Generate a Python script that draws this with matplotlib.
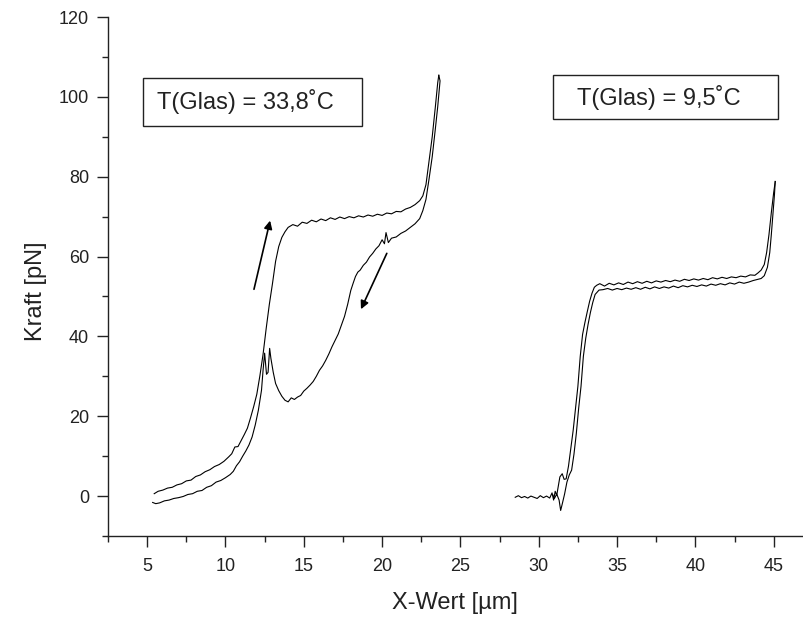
import matplotlib
matplotlib.use("Agg")
import matplotlib.pyplot as plt
import matplotlib.patches as patches
from matplotlib.ticker import MultipleLocator

plt.rcParams['font.family'] = ['Liberation Sans', 'DejaVu Sans']

# --- 33,8 C: approach branch (up arrow)
warm_up_x = [5.45, 5.7, 6.0, 6.3, 6.6, 6.9, 7.2, 7.5, 7.8, 8.1, 8.4, 8.7, 9.0,
             9.3, 9.6, 9.9, 10.2, 10.4, 10.6, 10.8, 11.0, 11.2, 11.4, 11.6,
             11.8, 12.0, 12.2, 12.4, 12.6, 12.8, 13.0, 13.2, 13.4, 13.6, 13.8,
             14.0, 14.3, 14.6, 14.9, 15.2, 15.5, 15.8, 16.1, 16.4, 16.7, 17.0,
             17.3, 17.6, 17.9, 18.2, 18.5, 18.8, 19.1, 19.4, 19.7, 20.0, 20.3,
             20.6, 20.9, 21.2, 21.5, 21.8, 22.1, 22.4, 22.6, 22.8, 23.0, 23.2,
             23.4, 23.55, 23.62]
warm_up_y = [0.6, 1.2, 1.5, 2.0, 2.2, 2.8, 3.1, 3.8, 4.0, 4.9, 5.3, 6.1, 6.6,
             7.4, 7.9, 8.7, 9.8, 10.6, 12.3, 12.4, 13.9, 15.4, 17.0, 19.6,
             22.4, 25.5, 30.2, 35.5, 42.0, 48.0, 53.2, 58.8, 62.5, 64.8, 66.2,
             67.3, 68.0, 67.6, 68.6, 68.3, 69.1, 68.7, 69.4, 69.0, 69.7, 69.3,
             69.9, 69.5, 70.0, 69.7, 70.2, 69.9, 70.4, 70.1, 70.6, 70.3, 70.9,
             70.7, 71.3, 71.2, 71.9, 72.3, 73.0, 74.0, 75.2, 78.0, 84.0, 90.0,
             97.5, 103.5, 105.4]

# --- 33,8 C: retract branch (down arrow)
warm_down_x = [23.62, 23.7, 23.55, 23.4, 23.2, 23.0, 22.8, 22.6, 22.4, 22.1,
               21.8, 21.5, 21.2, 20.9, 20.6, 20.4, 20.25, 20.15, 20.0, 19.8,
               19.6, 19.4, 19.2, 19.0, 18.8, 18.6, 18.45, 18.3, 18.15, 18.0,
               17.8, 17.6, 17.4, 17.2, 17.0, 16.8, 16.6, 16.4, 16.2, 16.0,
               15.8, 15.6, 15.4, 15.2, 15.0, 14.8, 14.6, 14.4, 14.2, 14.0,
               13.8, 13.6, 13.4, 13.2, 13.05, 12.9, 12.82, 12.72, 12.62, 12.5,
               12.4, 12.3, 12.1, 11.9, 11.7, 11.5, 11.3, 11.1, 10.9, 10.7,
               10.5, 10.3, 10.0, 9.7, 9.4, 9.1, 8.8, 8.5, 8.2, 7.9, 7.6, 7.3,
               7.0, 6.7, 6.4, 6.1, 5.8, 5.55, 5.35]
warm_down_y = [105.4, 104.0, 97.5, 92.0, 85.0, 79.5, 74.3, 71.5, 69.5, 68.2,
               67.3, 66.4, 65.8, 64.9, 64.6, 63.5, 66.0, 63.2, 64.2, 62.7,
               61.9, 60.8, 59.9, 58.6, 57.8, 56.6, 56.1, 55.0, 53.3, 51.5,
               48.0, 45.0, 42.8, 40.6, 39.0, 37.4, 35.6, 34.0, 32.6, 31.5,
               30.0, 28.7, 27.8, 27.0, 26.3, 25.2, 24.8, 24.2, 24.6, 23.6,
               24.0, 25.0, 26.4, 28.2, 31.0, 34.5, 37.0, 31.0, 30.5, 35.8,
               31.5, 26.5, 21.5, 17.8, 14.8, 12.8, 11.3, 10.0, 8.6, 7.6,
               6.2, 5.4, 4.6, 3.9, 3.5, 2.6, 2.2, 1.4, 1.2, 0.6, 0.4, -0.1,
               -0.4, -0.6, -1.0, -1.2, -1.7, -1.9, -1.6]

# --- 9,5 C: approach branch
cold_up_x = [28.5, 28.7, 28.9, 29.1, 29.3, 29.5, 29.7, 29.9, 30.1, 30.3, 30.5,
             30.7, 30.85, 30.95, 31.05, 31.15, 31.25, 31.35, 31.5, 31.62,
             31.75, 31.9, 32.05, 32.2, 32.35, 32.5, 32.65, 32.8, 32.95, 33.1,
             33.25, 33.4, 33.55, 33.7, 33.9, 34.2, 34.5, 34.8, 35.1, 35.4,
             35.7, 36.0, 36.3, 36.6, 36.9, 37.2, 37.5, 37.8, 38.1, 38.4, 38.7,
             39.0, 39.3, 39.6, 39.9, 40.2, 40.5, 40.8, 41.1, 41.4, 41.7, 42.0,
             42.3, 42.6, 42.9, 43.2, 43.5, 43.8, 44.0, 44.2, 44.4, 44.55,
             44.7, 44.85, 45.0, 45.1]
cold_up_y = [-0.3, 0.1, -0.4, -0.1, -0.5, 0.0, -0.3, -0.6, 0.1, -0.4, 0.0,
             -0.5, 0.8, -1.0, 1.2, 0.2, 2.5, 4.8, 5.6, 4.2, 4.3, 7.5, 12.0,
             16.5, 22.0, 27.5, 35.0, 40.5, 43.5, 46.2, 48.8, 50.8, 52.3, 52.8,
             53.2, 52.6, 53.3, 52.9, 53.4, 53.0, 53.6, 53.2, 53.7, 53.3, 53.8,
             53.4, 53.9, 53.6, 54.0, 53.7, 54.1, 53.8, 54.3, 54.0, 54.4, 54.1,
             54.5, 54.2, 54.7, 54.4, 54.8, 54.5, 54.9, 54.7, 55.1, 54.9, 55.4,
             55.3, 55.9, 56.6, 58.0, 61.0, 65.5, 71.0, 76.0, 78.8]

# --- 9,5 C: retract branch
cold_down_x = [45.1, 45.05, 44.95, 44.85, 44.75, 44.6, 44.4, 44.2, 44.0,
               43.7, 43.4, 43.1, 42.8, 42.5, 42.2, 41.9, 41.6, 41.3, 41.0,
               40.7, 40.4, 40.1, 39.8, 39.5, 39.2, 38.9, 38.6, 38.3, 38.0,
               37.7, 37.4, 37.1, 36.8, 36.5, 36.2, 35.9, 35.6, 35.3, 35.0,
               34.7, 34.4, 34.1, 33.85, 33.6, 33.45, 33.3, 33.15, 33.0, 32.85,
               32.7, 32.55, 32.4, 32.25, 32.1, 31.95, 31.8, 31.65, 31.5, 31.4,
               31.3, 31.15, 31.0, 30.9]
cold_down_y = [78.8, 75.5, 70.5, 65.5, 61.0, 57.3, 55.2, 54.5, 54.3, 54.0,
               53.6, 53.3, 53.6, 53.1, 53.4, 52.9, 53.2, 52.8, 53.1, 52.6,
               52.9, 52.5, 52.8, 52.4, 52.7, 52.2, 52.6, 52.1, 52.4, 52.0,
               52.4, 51.9, 52.3, 51.8, 52.2, 51.8, 52.1, 51.7, 52.0, 51.6,
               52.0, 51.7, 51.6, 50.5, 48.5, 46.0, 43.0, 39.5, 35.0, 27.5,
               22.0, 15.7, 10.5, 6.5, 5.3, 3.5, 0.5, -2.0, -3.6, -1.0, 0.5,
               -0.6, 0.3]

labels = ["T(Glas) = 33,8˚C", "T(Glas) = 9,5˚C"]

# arrow annotations (tail -> head) in data units
arrow_up = ((11.82, 51.8), (12.85, 69.0))
arrow_down = ((20.3, 60.8), (18.65, 46.8))


def main():
    fig = plt.figure(figsize=(8.04, 6.18), dpi=100)
    ax = fig.add_axes([108 / 804, 1 - 536 / 618, 697 / 804, 519 / 618])

    for xs, ys in [(warm_up_x, warm_up_y), (warm_down_x, warm_down_y),
                   (cold_up_x, cold_up_y), (cold_down_x, cold_down_y)]:
        ax.plot(xs, ys, color='black', lw=0.8)

    for tail, head in [arrow_up, arrow_down]:
        ax.annotate('', xy=head, xytext=tail,
                    arrowprops=dict(arrowstyle='-|>', color='black', lw=1.2,
                                    mutation_scale=12, shrinkA=0, shrinkB=0))

    ax.set_xlim(2.5, 47)
    ax.set_ylim(-10, 120)
    ax.xaxis.set_major_locator(MultipleLocator(5))
    ax.xaxis.set_minor_locator(MultipleLocator(2.5))
    ax.yaxis.set_major_locator(MultipleLocator(20))
    ax.yaxis.set_minor_locator(MultipleLocator(10))
    ax.spines['top'].set_visible(False)
    ax.spines['right'].set_visible(False)
    for s in ['left', 'bottom']:
        ax.spines[s].set_linewidth(1.0)
        ax.spines[s].set_color('#222222')
    ax.tick_params(which='major', direction='out', length=7.7, width=1.0,
                   labelsize=13, colors='#222222')
    ax.tick_params(axis='x', which='major', pad=8)
    ax.tick_params(axis='y', which='major', pad=6)
    ax.tick_params(which='minor', direction='out', length=4.5, width=1.0,
                   colors='#222222')

    ax.set_xlabel('X-Wert [µm]', fontsize=17, va='center', color='#222222')
    ax.set_ylabel('Kraft [pN]', fontsize=17, va='center', color='#222222')
    ax.xaxis.set_label_coords(0.498, -0.129)
    ax.yaxis.set_label_coords(-0.104, 0.472)

    # boxes with temperature labels (figure fraction)
    boxes = [(143, 78, 362, 126, 157, 101), (553, 75, 778, 119, 577, 97)]
    for (x0, y0, x1, y1, tx, ty), lab in zip(boxes, labels):
        rect = patches.Rectangle((x0 / 804, 1 - y1 / 618),
                                 (x1 - x0) / 804, (y1 - y0) / 618,
                                 transform=fig.transFigure, fill=False,
                                 edgecolor='#222222', lw=1.0)
        fig.patches.append(rect)
        fig.text(tx / 804, 1 - ty / 618, lab, fontsize=17, va='center',
                 ha='left', color='#222222')

    fig.savefig('out.png', dpi=100)


if __name__ == "__main__":
    main()
